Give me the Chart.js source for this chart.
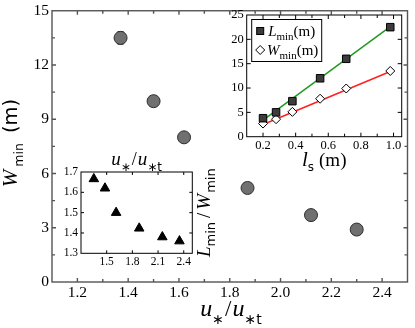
<!DOCTYPE html>
<html>
<head>
<meta charset="utf-8">
<script src="https://cdn.jsdelivr.net/npm/chart.js@4.4.1/dist/chart.umd.min.js"></script>
<style>
  html, body { margin: 0; padding: 0; background: #fff; }
  #wrap { position: relative; width: 415px; height: 328px; overflow: hidden; }
  canvas { position: absolute; }
</style>
</head>
<body>
<div id="wrap">
  <canvas id="main" width="415" height="328" style="left:0;top:0"></canvas>
  <canvas id="ins1" width="215" height="175" style="left:200px;top:0"></canvas>
  <canvas id="ins2" width="190" height="125" style="left:40px;top:150px"></canvas>
</div>
<script>
// main panel: W_min vs u*/u*t
const uRatio = [1.37, 1.50, 1.62, 1.87, 2.12, 2.30];
const wMin = [13.5, 10.0, 8.0, 5.2, 3.7, 2.9];
const wErr = [0.35, 0, 0, 0, 0, 0];
const mainXLabels = [1.2, 1.4, 1.6, 1.8, 2.0, 2.2, 2.4];
const mainYLabels = [0, 3, 6, 9, 12, 15];

// upper inset: L_min and W_min vs l_s
const ls = [0.2, 0.28, 0.38, 0.55, 0.71, 0.98];
const lMin = [3.8, 5.0, 7.3, 12.0, 16.0, 22.5];
const wMinLs = [2.7, 3.6, 5.1, 7.8, 9.9, 13.5];
const fitX = [0.2, 0.98];
const fitL = [3.4, 22.6];
const fitW = [2.5, 13.4];
const ins1XLabels = [0.2, 0.4, 0.6, 0.8, 1.0];
const ins1YLabels = [0, 5, 10, 15, 20, 25];

// lower inset: L_min/W_min vs u*/u*t
const uRatio2 = [1.35, 1.48, 1.61, 1.88, 2.15, 2.35];
const lwRatio = [1.666, 1.62, 1.50, 1.423, 1.38, 1.36];
const ins2XLabels = [1.5, 1.8, 2.1, 2.4];
const ins2YLabels = [1.3, 1.4, 1.5, 1.6, 1.7];

const SERIF = '"Liberation Serif", "DejaVu Serif", serif';
const SANS = '"DejaVu Sans", "Liberation Sans", sans-serif';

const pts = (xs, ys) => xs.map((x, i) => ({ x: x, y: ys[i] }));
const has = (list, v) => list.some(t => Math.abs(t - v) < 1e-6);
const lab = (list, dec) => v => has(list, v) ? Number(v).toFixed(dec) : '';
// labelled ticks plus the unlabelled ones halfway between them
const withMinor = list => list.concat(list.slice(1).map((v, i) => (v + list[i]) / 2));

function rich(ctx, parts, x, y, angle) {
    ctx.save();
    ctx.translate(x, y);
    if (angle) ctx.rotate(angle);
    ctx.textBaseline = 'alphabetic';
    ctx.textAlign = 'left';
    ctx.fillStyle = '#000';
    let w = 0;
    parts.forEach(p => { ctx.font = p.font; p.w = ctx.measureText(p.t).width; w += p.w + (p.gap || 0); });
    let cx = -w / 2;
    parts.forEach(p => {
        cx += p.gap || 0;
        ctx.font = p.font;
        ctx.fillText(p.t, cx, p.dy || 0);
        cx += p.w;
    });
    ctx.restore();
}

const boxTicks = (color, lw, xl, yl, len, minLen) => ({
    id: 'boxTicks',
    afterDraw(chart) {
        const { ctx, chartArea: a, scales: { x, y } } = chart;
        ctx.save();
        ctx.strokeStyle = color;
        ctx.lineWidth = lw;
        ctx.beginPath();
        x.ticks.forEach(t => {
            const p = x.getPixelForValue(t.value);
            if (p <= a.left + 1 || p >= a.right - 1) return;
            const l = has(xl, t.value) ? len : minLen;
            ctx.moveTo(p, a.bottom); ctx.lineTo(p, a.bottom - l);
            ctx.moveTo(p, a.top); ctx.lineTo(p, a.top + l);
        });
        y.ticks.forEach(t => {
            const p = y.getPixelForValue(t.value);
            if (p <= a.top + 1 || p >= a.bottom - 1) return;
            const l = has(yl, t.value) ? len : minLen;
            ctx.moveTo(a.left, p); ctx.lineTo(a.left + l, p);
            ctx.moveTo(a.right, p); ctx.lineTo(a.right - l, p);
        });
        ctx.stroke();
        ctx.strokeRect(a.left, a.top, a.right - a.left, a.bottom - a.top);
        ctx.restore();
    }
});

const whiteArea = {
    id: 'whiteArea',
    beforeDraw(chart) {
        const { ctx, chartArea: a } = chart;
        ctx.save();
        ctx.fillStyle = '#fff';
        ctx.fillRect(a.left, a.top, a.right - a.left, a.bottom - a.top);
        ctx.restore();
    }
};

function axes(xr, yr, xTicks, yTicks, xl, yl, dec, ySize, xSize, font, pad) {
    const tf = { family: SERIF, size: font, lineHeight: 1 };
    return {
        x: {
            type: 'linear', min: xr[0], max: xr[1],
            grid: { display: false, drawTicks: false }, border: { display: false },
            ticks: { autoSkip: false, maxRotation: 0, color: '#000', font: tf, padding: pad, callback: lab(xl, dec[0]) },
            afterBuildTicks: s => { s.ticks = xTicks.map(v => ({ value: v })); },
            afterFit: s => { s.height = xSize; }
        },
        y: {
            type: 'linear', min: yr[0], max: yr[1],
            grid: { display: false, drawTicks: false }, border: { display: false },
            ticks: { autoSkip: false, color: '#000', font: tf, padding: pad, callback: lab(yl, dec[1]) },
            afterBuildTicks: s => { s.ticks = yTicks.map(v => ({ value: v })); },
            afterFit: s => { s.width = ySize; }
        }
    };
}

const base = {
    responsive: false,
    animation: false,
    devicePixelRatio: 1,
    events: [],
    plugins: { legend: { display: false }, tooltip: { enabled: false } }
};

// error bar for the main panel
const errBars = {
    id: 'errBars',
    beforeDatasetsDraw(chart) {
        const { ctx, scales: { x, y } } = chart;
        ctx.save();
        ctx.strokeStyle = '#333';
        ctx.lineWidth = 1;
        wErr.forEach((e, i) => {
            if (!e) return;
            const px = x.getPixelForValue(uRatio[i]);
            const t = y.getPixelForValue(wMin[i] + e), b = y.getPixelForValue(wMin[i] - e);
            ctx.beginPath();
            ctx.moveTo(px, t); ctx.lineTo(px, b);
            ctx.moveTo(px - 3, t); ctx.lineTo(px + 3, t);
            ctx.moveTo(px - 3, b); ctx.lineTo(px + 3, b);
            ctx.stroke();
        });
        ctx.restore();
    }
};

const mainTitles = {
    id: 'mainTitles',
    afterDraw(chart) {
        const ctx = chart.ctx;
        rich(ctx, [
            { t: 'u', font: `italic 24px ${SERIF}` },
            { t: '\u2217', font: `14px ${SANS}`, dy: 8 },
            { t: '/', font: `23px ${SERIF}`, gap: 1 },
            { t: 'u', font: `italic 24px ${SERIF}`, gap: 1 },
            { t: '\u2217t', font: `14px ${SANS}`, dy: 8 }
        ], 231, 316);
        rich(ctx, [
            { t: 'W', font: `italic 21px ${SERIF}` },
            { t: 'min', font: `12.5px ${SANS}`, dy: 6, gap: 3 },
            { t: '(m)', font: `19.5px ${SANS}`, gap: 10 }
        ], 17, 143, -Math.PI / 2);
    }
};

new Chart(document.getElementById('main'), {
    type: 'scatter',
    data: {
        datasets: [{
            data: pts(uRatio, wMin),
            pointRadius: 6.5,
            backgroundColor: '#707070',
            borderColor: '#2e2e2e',
            borderWidth: 1
        }]
    },
    options: Object.assign({}, base, {
        layout: { padding: { left: 0, right: 2, top: 7, bottom: 0 } },
        scales: axes([1.1, 2.5], [0, 15], withMinor(mainXLabels), withMinor(mainYLabels),
                     mainXLabels, mainYLabels, [1, 0], 52, 46, 15.5, 3)
    }),
    plugins: [errBars, boxTicks('#555', 1.4, mainXLabels, mainYLabels, 4, 3), mainTitles]
});

// upper inset
const ins1Deco = {
    id: 'ins1Deco',
    afterDraw(chart) {
        const { ctx, chartArea: a } = chart;
        const bx = a.left + 5, by = a.top + 4.5;
        ctx.save();
        ctx.fillStyle = '#fff';
        ctx.strokeStyle = '#000';
        ctx.lineWidth = 1;
        ctx.fillRect(bx, by, 70, 42);
        ctx.strokeRect(bx, by, 70, 42);
        ctx.fillStyle = '#3c3c3c';
        ctx.fillRect(bx + 5, by + 8, 7, 7);
        ctx.strokeRect(bx + 5, by + 8, 7, 7);
        ctx.fillStyle = '#fff';
        ctx.beginPath();
        ctx.moveTo(bx + 8.5, by + 26); ctx.lineTo(bx + 13, by + 30.5);
        ctx.lineTo(bx + 8.5, by + 35); ctx.lineTo(bx + 4, by + 30.5);
        ctx.closePath(); ctx.fill(); ctx.stroke();
        ctx.restore();
        rich(ctx, [
            { t: 'L', font: `italic 15px ${SERIF}` },
            { t: 'min', font: `11px ${SERIF}`, dy: 4 },
            { t: '(m)', font: `15px ${SERIF}` }
        ], bx + 40, by + 16);
        rich(ctx, [
            { t: 'W', font: `italic 15px ${SERIF}` },
            { t: 'min', font: `11px ${SERIF}`, dy: 4 },
            { t: '(m)', font: `15px ${SERIF}` }
        ], bx + 41, by + 35);
        rich(ctx, [
            { t: 'l', font: `italic 21px ${SERIF}` },
            { t: 's', font: `12px ${SANS}`, dy: 5 },
            { t: '(m)', font: `19px ${SERIF}`, gap: 5 }
        ], (a.left + a.right) / 2, 166);
    }
};

new Chart(document.getElementById('ins1'), {
    type: 'scatter',
    data: {
        datasets: [
            { type: 'line', data: pts(fitX, fitL), borderColor: '#1f9a1f', borderWidth: 1.5, pointRadius: 0, order: 3 },
            { type: 'line', data: pts(fitX, fitW), borderColor: '#ff2020', borderWidth: 1.5, pointRadius: 0, order: 3 },
            { data: pts(ls, lMin), pointStyle: 'rect', pointRadius: 5.3, backgroundColor: '#3c3c3c', borderColor: '#000', borderWidth: 1, order: 1 },
            { data: pts(ls, wMinLs), pointStyle: 'rectRot', pointRadius: 4.5, backgroundColor: '#fff', borderColor: '#000', borderWidth: 1, order: 2 }
        ]
    },
    options: Object.assign({}, base, {
        layout: { padding: { left: 0, right: 13.3, top: 15, bottom: 0 } },
        scales: axes([0.1, 1.05], [0, 25], withMinor(ins1XLabels), ins1YLabels,
                     ins1XLabels, ins1YLabels, [1, 0], 46.7, 38.3, 12.5, 3)
    }),
    plugins: [whiteArea, boxTicks('#000', 1, ins1XLabels, ins1YLabels, 4, 3), ins1Deco]
});

// lower inset
const ins2Deco = {
    id: 'ins2Deco',
    afterDraw(chart) {
        const { ctx, chartArea: a } = chart;
        rich(ctx, [
            { t: 'u', font: `italic 19px ${SERIF}` },
            { t: '\u2217', font: `12px ${SANS}`, dy: 6 },
            { t: '/', font: `18px ${SERIF}`, gap: 1 },
            { t: 'u', font: `italic 19px ${SERIF}`, gap: 1 },
            { t: '\u2217t', font: `12px ${SANS}`, dy: 6 }
        ], (a.left + a.right) / 2, 15);
        rich(ctx, [
            { t: 'L', font: `italic 19px ${SERIF}` },
            { t: 'min', font: `13px ${SANS}`, dy: 5 },
            { t: '/', font: `19px ${SERIF}`, gap: 4 },
            { t: 'W', font: `italic 19px ${SERIF}`, gap: 3 },
            { t: 'min', font: `13px ${SANS}`, dy: 5, gap: 1 }
        ], 170, (a.top + a.bottom) / 2, -Math.PI / 2);
    }
};

new Chart(document.getElementById('ins2'), {
    type: 'scatter',
    data: {
        datasets: [{
            data: pts(uRatio2, lwRatio),
            pointStyle: 'triangle',
            pointRadius: 5.5,
            backgroundColor: '#000',
            borderColor: '#000',
            borderWidth: 1
        }]
    },
    options: Object.assign({}, base, {
        layout: { padding: { left: 0, right: 37.7, top: 22, bottom: 0 } },
        scales: axes([1.2, 2.5], [1.3, 1.7], ins2XLabels, ins2YLabels,
                     ins2XLabels, ins2YLabels, [1, 1], 41, 21.7, 11.5, 3)
    }),
    plugins: [whiteArea, boxTicks('#000', 1, ins2XLabels, ins2YLabels, 3, 2), ins2Deco]
});
</script>
</body>
</html>
